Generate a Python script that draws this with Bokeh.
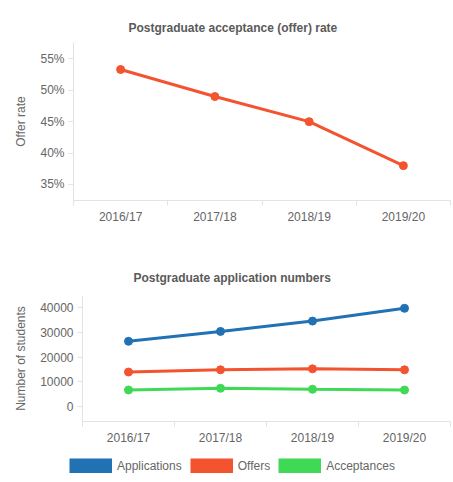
from bokeh.plotting import figure
from bokeh.models import (Range1d, FixedTicker, SingleIntervalTicker, Title,
                          PrintfTickFormatter, NumeralTickFormatter, Legend, LegendItem)
from bokeh.embed import file_html
from bokeh.resources import INLINE

# datos
years = ["2016/17", "2017/18", "2018/19", "2019/20"]
offer_rate = [53.3, 49.0, 45.0, 38.0]

applications = [26400, 30400, 34600, 39800]
offers = [13900, 14800, 15200, 14800]
acceptances = [6600, 7300, 6900, 6600]

FONT = "Liberation Sans"
TEXT = "#666666"
AXIS = "#e3e3e3"
BLUE = "#2171b5"
RED = "#f4532f"
GREEN = "#3fd956"

# cada categoria ocupa una unidad; el punto va en su centro
n = len(years)
xpos = [i + 0.5 for i in range(n)]
edges = [i for i in range(n + 1)]


def make_fig(height, top, bottom, left, y_range, title, title_offset, title_standoff, ylabel):
    p = figure(x_range=Range1d(0, n), y_range=y_range, width=453, height=height,
               output_backend="svg", toolbar_location=None, tools="",
               min_border_top=top, min_border_bottom=bottom,
               min_border_left=left, min_border_right=3)
    p.outline_line_color = None
    p.xgrid.grid_line_color = None
    p.ygrid.grid_line_color = None

    # eje x con marcas en los bordes de cada categoria
    xa = p.xaxis[0]
    xa.ticker = FixedTicker(ticks=xpos, minor_ticks=edges)
    xa.major_label_overrides = {c: y for c, y in zip(xpos, years)}
    xa.major_tick_out = 0
    xa.major_tick_in = 0
    xa.minor_tick_out = 5
    xa.minor_tick_in = 0
    xa.minor_tick_line_color = AXIS
    xa.axis_line_color = AXIS
    xa.major_label_standoff = 4
    xa.major_label_text_font = FONT
    xa.major_label_text_font_size = "12px"
    xa.major_label_text_color = TEXT

    ya = p.yaxis[0]
    ya.axis_line_color = AXIS
    ya.major_tick_line_color = AXIS
    ya.major_tick_out = 5
    ya.major_tick_in = 0
    ya.minor_tick_line_color = None
    ya.major_label_standoff = 4
    ya.major_label_text_font = FONT
    ya.major_label_text_font_size = "12px"
    ya.major_label_text_color = TEXT
    ya.axis_label = ylabel
    ya.axis_label_standoff = 9
    ya.axis_label_text_font = FONT
    ya.axis_label_text_font_size = "12px"
    ya.axis_label_text_font_style = "normal"
    ya.axis_label_text_color = TEXT

    p.add_layout(Title(text=title, align="left", offset=title_offset, standoff=title_standoff,
                       text_font=FONT, text_font_size="12px", text_font_style="bold",
                       text_color="#5a5a5a"), "above")
    return p


# grafico 1: tasa de ofertas
p1 = make_fig(240, 42, 40, 73, Range1d(32.45, 57.6),
              "Postgraduate acceptance (offer) rate", 55, 16, "Offer rate")
p1.yaxis[0].ticker = SingleIntervalTicker(interval=5)
p1.yaxis[0].formatter = PrintfTickFormatter(format="%d%%")
p1.line(xpos, offer_rate, color=RED, line_width=3)
p1.scatter(xpos, offer_rate, size=8, color=RED)

# grafico 2: numero de solicitudes
p2 = make_fig(210, 55, 29, 82, Range1d(-6200, 45000),
              "Postgraduate application numbers", 51, 22, "Number of students")
p2.yaxis[0].ticker = SingleIntervalTicker(interval=10000)
p2.yaxis[0].formatter = NumeralTickFormatter(format="0")

# franja de la leyenda debajo del segundo grafico
p3 = figure(width=453, height=24, x_range=Range1d(0, 1), y_range=Range1d(0, 1),
            output_backend="svg", toolbar_location=None, tools="",
            x_axis_location=None, y_axis_location=None, min_border=0)
p3.outline_line_color = None
p3.xgrid.grid_line_color = None
p3.ygrid.grid_line_color = None

series = [("Applications", applications, BLUE),
          ("Offers", offers, RED),
          ("Acceptances", acceptances, GREEN)]

items = []
for name, vals, col in series:
    p2.line(xpos, vals, color=col, line_width=3)
    p2.scatter(xpos, vals, size=8, color=col)
    # renderer solo para el cuadro de la leyenda
    box = p3.line(xpos, vals, color=col, line_width=15, line_cap="butt", visible=False)
    items.append(LegendItem(label=name, renderers=[box]))

legend = Legend(items=items, orientation="horizontal", location=(69, 1),
                glyph_width=43, glyph_height=15, label_height=15, label_standoff=5,
                spacing=8, padding=0, margin=0, border_line_color=None,
                background_fill_alpha=0, inactive_fill_alpha=0,
                label_text_font=FONT, label_text_font_size="12px", label_text_color=TEXT)
p3.add_layout(legend, "center")

# cada figura como raiz propia para que no se alineen sus marcos
open("out.html", "w").write(file_html([p1, p2, p3], INLINE))
